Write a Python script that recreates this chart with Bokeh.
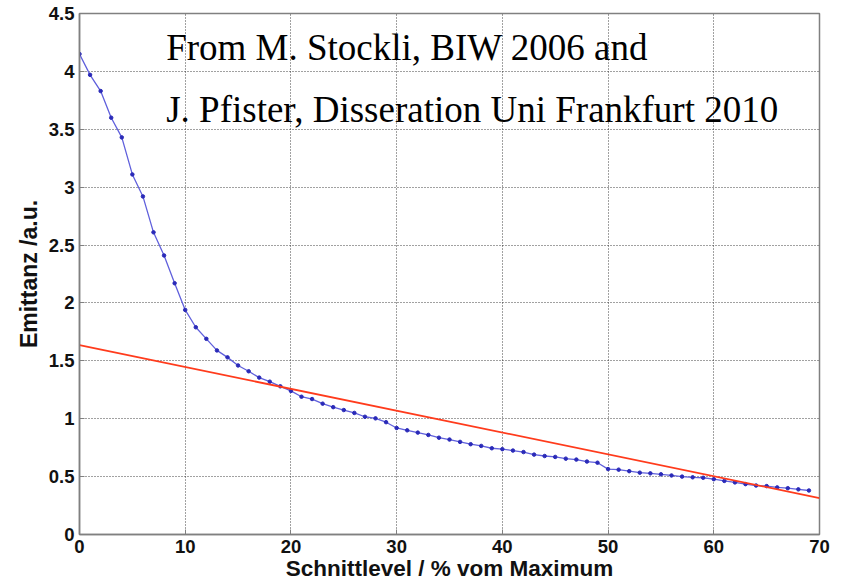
from bokeh.plotting import figure
from bokeh.models import Label, FixedTicker, Range1d
from bokeh.embed import file_html
from bokeh.resources import INLINE

# ---- data ----
schnittlevel = list(range(70))
emittanz = [4.15, 3.97, 3.83, 3.60, 3.43, 3.11, 2.92, 2.61, 2.41, 2.17,
            1.94, 1.79, 1.69, 1.59, 1.53, 1.46, 1.41, 1.355, 1.32, 1.28,
            1.24, 1.19, 1.17, 1.13, 1.10, 1.075, 1.05, 1.017, 1.003, 0.97,
            0.92, 0.90, 0.88, 0.86, 0.836, 0.82, 0.80, 0.78, 0.765, 0.745,
            0.737, 0.725, 0.712, 0.69, 0.678, 0.67, 0.655, 0.647, 0.63, 0.62,
            0.565, 0.56, 0.547, 0.534, 0.528, 0.52, 0.51, 0.50, 0.494, 0.49,
            0.478, 0.463, 0.45, 0.435, 0.423, 0.418, 0.407, 0.40, 0.39, 0.38]
fit_x = [0, 70]
fit_y = [1.635, 0.315]

x_ticks = [0, 10, 20, 30, 40, 50, 60, 70]
y_ticks = [0, 0.5, 1, 1.5, 2, 2.5, 3, 3.5, 4, 4.5]

note_lines = ["From M. Stockli, BIW 2006 and",
              "J. Pfister, Disseration Uni Frankfurt 2010"]

p = figure(width=842, height=583, output_backend="svg", toolbar_location=None,
           x_range=Range1d(0, 70), y_range=Range1d(0, 4.5),
           min_border_left=79, min_border_right=23, min_border_top=13,
           min_border_bottom=47)
p.background_fill_color = "white"
p.border_fill_color = "white"
p.outline_line_color = "#808080"
p.outline_line_width = 1.5

for ax in (p.xaxis[0], p.yaxis[0]):
    ax.major_label_text_font = "Liberation Sans"
    ax.major_label_text_font_style = "bold"
    ax.major_label_text_font_size = "18.5px"
    ax.major_label_text_color = "#111111"
    ax.axis_label_text_font = "Liberation Sans"
    ax.axis_label_text_font_style = "bold"
    ax.axis_label_text_color = "#111111"
    ax.axis_line_color = "#808080"
    ax.axis_line_width = 1.5
    ax.major_tick_line_color = "#808080"
    ax.major_tick_in = 5
    ax.major_tick_out = 0
    ax.minor_tick_line_color = None

p.xaxis[0].ticker = FixedTicker(ticks=x_ticks)
p.yaxis[0].ticker = FixedTicker(ticks=y_ticks)
p.xaxis[0].axis_label = "Schnittlevel / % vom Maximum"
p.yaxis[0].axis_label = "Emittanz /a.u."
p.xaxis[0].axis_label_text_font_size = "22.5px"
p.yaxis[0].axis_label_text_font_size = "23px"
p.xaxis[0].major_label_standoff = 5
p.xaxis[0].axis_label_standoff = 0
p.yaxis[0].major_label_standoff = 5
p.yaxis[0].axis_label_standoff = 4

p.xgrid[0].ticker = FixedTicker(ticks=x_ticks)
p.ygrid[0].ticker = FixedTicker(ticks=y_ticks)
for g in (p.xgrid[0], p.ygrid[0]):
    g.grid_line_color = "#222222"
    g.grid_line_dash = "1 2"
    g.grid_line_width = 1
    g.grid_line_alpha = 0.85

p.line(schnittlevel, emittanz, line_color="#6060dc", line_width=1.3)
p.scatter(schnittlevel, emittanz, size=3.5, color="#2a2ab8")
p.line(fit_x, fit_y, line_color="#ff3b1c", line_width=1.8)

p.add_layout(Label(x=8.2, y=4.21, text=note_lines[0],
                   text_font="Liberation Serif", text_font_size="37px",
                   text_color="black", text_baseline="alphabetic"))
p.add_layout(Label(x=8.2, y=3.675, text=note_lines[1],
                   text_font="Liberation Serif", text_font_size="37px",
                   text_color="black", text_baseline="alphabetic"))

open("out.html", "w").write(file_html(p, INLINE))
